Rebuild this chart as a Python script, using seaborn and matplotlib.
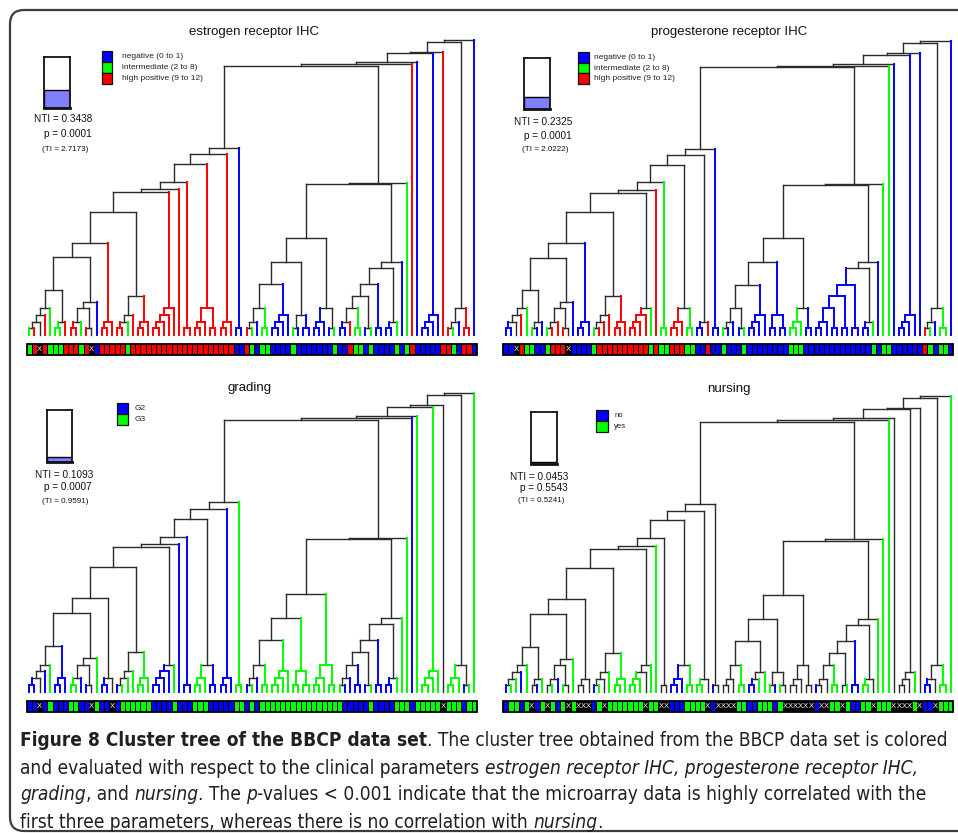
import numpy as np
import matplotlib
matplotlib.use("Agg")
import matplotlib.pyplot as plt
import seaborn as sns
from matplotlib.colors import ListedColormap
from matplotlib.patches import Rectangle, FancyBboxPatch
from matplotlib.collections import LineCollection
from matplotlib import font_manager as fm

# ---------------- data ----------------
# cluster tree shared by all four panels: [merge height, left, right]; 0 = leaf
sub_a = [45.0, [26.7, [20.0, [13.3, [6.7, 0, 0], 0], 0], 0], [13.3, [6.7, 0, 0], 0]]
sub_b = [33.3, [26.7, [13.3, [6.7, 0, 0], 0], [6.7, 0, 0]], 0]
sub_c = [13.3, [6.7, 0, 0], 0]
sub_d = [39.0, [20.0, [13.3, [6.7, 0, 0], 0], 0], [13.3, [6.7, 0, 0], 0]]
sub_e = [26.7, [20.0, [13.3, [6.7, 0, 0], 0], 0], 0]
sub_f = [26.7, [13.3, [6.7, 0, 0], 0], [6.7, 0, 0]]
sub_g = [13.3, [6.7, 0, 0], 0]
left_clade = [187.3,
              [180.7,
               [171.0,
                [153.3,
                 [145.7,
                  [142.7, [123.3, [92.3, [77.7, sub_a, sub_b], sub_c], sub_d], sub_e],
                  0],
                 [6.7, 0, 0]],
                sub_f],
               sub_g],
              [6.7, 0, 0]]
sub_h = [26.7, [13.3, [6.7, 0, 0], 0], [6.7, 0, 0]]
sub_i = [20.0, [13.3, [6.7, 0, 0], 0], 0]
sub_j = [20.0, [6.7, 0, 0], [6.7, 0, 0]]
sub_k = [26.7, [13.3, [6.7, 0, 0], 0], [6.7, 0, 0]]
sub_l = [50.7, [39.0, [26.7, [13.3, [6.7, 0, 0], 0], [6.7, 0, 0]], [6.7, 0, 0]], [6.7, 0, 0]]
sub_m = [13.3, [6.7, 0, 0], 0]
right_clade = [152.0,
               [150.7,
                [97.0, [73.0, [50.7, sub_h, sub_i], sub_j], sub_k],
                [73.0, [67.0, sub_l, sub_m], 0]],
               0]
sub_n = [20.0, [13.3, [6.7, 0, 0], 0], 0]
sub_o = [26.7, [13.3, [6.7, 0, 0], 0], [6.7, 0, 0]]
tree = [295.0,
        [293.3,
         [283.3,
          [281.7,
           [272.7, [270.7, [269.0, left_clade, right_clade], 0], 0],
           sub_n],
          0],
         sub_o],
        0]

# leaf classes, left to right (X = missing)
er_leaf = list("GRXRGGGRRR" "GRXBRRRRRG" "RRRRRRRRRR" "RRRRRRRRRR"
               "BBRGBGGBBB" "BGBBBBBBBG" "BBRGGBGBBB" "BGBGRBBBBB" "RRGBRRB")
pr_leaf = list("BBXRGGBBGR" "RRXBBBBGRR" "RRRRRRRRGR" "GGRRRGGBBR"
               "BBGBBBGBBB" "BBBBBGGGBB" "BBBBBBBBBB" "BGBGGBBBBB" "BRGBGGB")
gr_leaf = list("BBXBGBBBGG" "BBXGBBXBGG" "GGGGBBBBGB" "BBGGGBBBBB"
               "GGBGBGGGGG" "GGGGGGGGGG" "GBBBBBGBBB" "BGGGBGGGGG" "XGGGBGG")
nu_leaf = list("BGGBGXBGXG" "BGXGXXXBGX" "GGGGGGGXGG" "XXBBBGGGGX"
               "BXXXXGGBBG" "GGBGXXXXXX" "BXXGGXGBBG" "GXGGGXXXXG" "XBBXGGG")

er_names = ["negative (0 to 1)", "intermediate (2 to 8)", "high positive (9 to 12)"]
pr_names = ["negative (0 to 1)", "intermediate (2 to 8)", "high positive (9 to 12)"]
gr_names = ["G2", "G3"]
nu_names = ["no", "yes"]

titles = ["estrogen receptor IHC", "progesterone receptor IHC", "grading", "nursing"]
nti_values = [0.3438, 0.2325, 0.1093, 0.0453]
p_values = ["0.0001", "0.0001", "0.0007", "0.5543"]
ti_values = ["2.7173", "2.0222", "0.9591", "0.5241"]

COL = {"B": "#0000ff", "G": "#00ff00", "R": "#ff0000", "X": "#000000"}
DARK = "#2b2b2b"

# ---------------- figure ----------------
sns.set_theme(style="white")
plt.rcParams['font.family'] = ['Liberation Sans', 'DejaVu Sans']

W, H = 958, 834
fig = plt.figure(figsize=(W / 100, H / 100), dpi=100)
canvas = fig.add_axes([0, 0, 1, 1])
canvas.set_xlim(0, W)
canvas.set_ylim(H, 0)
canvas.axis('off')


def px_axes(x0, y0, x1, y1):
    return fig.add_axes([x0 / W, 1 - y1 / H, (x1 - x0) / W, (y1 - y0) / H])


canvas.add_patch(FancyBboxPatch((10, 10), 1000, 821,
                                boxstyle="round,pad=0,rounding_size=14",
                                fill=False, ec="#3c3c3c", lw=1.6, clip_on=False))


def build(node, counter, cats, segs):
    if node == 0:
        i = counter[0]
        counter[0] += 1
        return i + 0.5, 0.0, {cats[i]}
    h, left, right = node
    xl, hl, sl = build(left, counter, cats, segs)
    xr, hr, sr = build(right, counter, cats, segs)
    s = sl | sr

    def colour(st):
        if len(st) == 1 and "X" not in st:
            return COL[next(iter(st))]
        return DARK

    segs.append(([(xl, hl), (xl, h)], colour(sl)))
    segs.append(([(xr, hr), (xr, h)], colour(sr)))
    segs.append(([(xl, h), (xr, h)], colour(s)))
    return (xl + xr) / 2, h, s


layout = [
    dict(x0=26.7, x1=476.7, top=40.0, base=335.0, bar=(344.3, 355.3),
         title=(254, 31.7), box=(44.3, 56.7, 70.0, 108.0),
         txt=[(63, 119.3), (67.5, 134.0), (65, 149.3)],
         leg=(101.7, 50.7, 10.6, 11.0, 122.0), legfs=6.0),
    dict(x0=503.3, x1=953.3, top=41.5, base=335.0, bar=(344.3, 355.3),
         title=(729, 32.0), box=(524.3, 58.0, 550.3, 109.0),
         txt=[(543, 121.7), (548, 136.0), (545, 149.3)],
         leg=(578.3, 52.3, 11.0, 10.5, 594.0), legfs=6.0),
    dict(x0=26.7, x1=476.7, top=393.3, base=691.7, bar=(701.0, 712.3),
         title=(249.3, 388.3), box=(46.7, 410.0, 72.3, 462.3),
         txt=[(64, 475.0), (68, 487.3), (65, 501.0)],
         leg=(116.7, 402.7, 11.0, 11.0, 134.3), legfs=6.0),
    dict(x0=503.3, x1=953.3, top=396.0, base=692.0, bar=(701.0, 712.3),
         title=(728.8, 389.0), box=(530.7, 412.3, 557.3, 464.3),
         txt=[(539.5, 477.3), (544, 488.3), (541, 500.0)],
         leg=(596.0, 410.0, 11.7, 10.8, 614.3), legfs=5.6),
]

leaves_all = [er_leaf, pr_leaf, gr_leaf, nu_leaf]
names_all = [er_names, pr_names, gr_names, nu_names]
keys_all = [["B", "G", "R"], ["B", "G", "R"], ["B", "G"], ["B", "G"]]

for k in range(4):
    L = layout[k]
    cats = leaves_all[k]
    keys = keys_all[k]
    n = len(cats)

    # --- dendrogram
    ax = px_axes(L["x0"], L["top"], L["x1"], L["base"])
    segs = []
    build(tree, [0], cats, segs)
    ax.set_xlim(0, n)
    ax.set_ylim(0, tree[0])
    ax.axis('off')
    dark = [s for s, c in segs if c == DARK]
    ax.add_collection(LineCollection(dark, colors=DARK, linewidths=1.0, clip_on=False,
                                     capstyle='projecting'))
    colsegs = [(s, c) for s, c in segs if c != DARK]
    ax.add_collection(LineCollection([s for s, c in colsegs], colors=[c for s, c in colsegs],
                                     linewidths=1.4, clip_on=False, capstyle='projecting'))

    # --- class colour bar (seaborn heatmap)
    bx = px_axes(L["x0"], L["bar"][0], L["x1"], L["bar"][1])
    order = keys + ["X"]
    codes = np.array([[order.index(c) for c in cats]])
    annot = np.array([["X" if c == "X" else "" for c in cats]])
    sns.heatmap(codes, ax=bx, cmap=ListedColormap([COL[c] for c in order]),
                vmin=-0.5, vmax=len(order) - 0.5, cbar=False,
                linewidths=0.7, linecolor="black",
                annot=annot, fmt="", annot_kws={"color": "white", "fontsize": 5.5},
                xticklabels=False, yticklabels=False)
    bx.add_patch(Rectangle((0, 0), n, 1, fill=False, ec="black", lw=1.3, clip_on=False))

    # --- title
    canvas.text(L["title"][0], L["title"][1], titles[k], ha="center", va="center",
                fontsize=9.5, color="#111111")

    # --- NTI box
    b = L["box"]
    nx = px_axes(b[0], b[1], b[2], b[3])
    nx.bar([0], [nti_values[k]], width=1.0, color="#8080ff", edgecolor="#000000", linewidth=1.0)
    nx.set_xlim(-0.5, 0.5)
    nx.set_ylim(0, 1)
    nx.set_xticks([])
    nx.set_yticks([])
    for sp in nx.spines.values():
        sp.set_visible(True)
        sp.set_color("#111111")
        sp.set_linewidth(1.3)
    nx.spines["bottom"].set_linewidth(2.0)
    t = L["txt"]
    canvas.text(t[0][0], t[0][1], f"NTI = {nti_values[k]:.4f}", ha="center", va="center",
                fontsize=7.2, color="#111111")
    canvas.text(t[1][0], t[1][1], f"p = {p_values[k]}", ha="center", va="center",
                fontsize=7.2, color="#111111")
    canvas.text(t[2][0], t[2][1], f"(TI = {ti_values[k]})", ha="center", va="center",
                fontsize=5.8, color="#111111")

    # --- legend
    lx, ly, lw_, lh, tx = L["leg"]
    for j, key in enumerate(keys):
        canvas.add_patch(Rectangle((lx, ly + j * lh), lw_, lh, fc=COL[key], ec="#111111", lw=0.9))
        canvas.text(tx, ly + j * lh + lh / 2, names_all[k][j], ha="left", va="center",
                    fontsize=L["legfs"], color="#222222")

# ---------------- caption ----------------
def pick_condensed():
    cands = [dict(family="Liberation Sans Narrow"),
             dict(family="DejaVu Sans", stretch="condensed"),
             dict(family="Open Sans", stretch="condensed")]
    for c in cands:
        try:
            f = fm.findfont(fm.FontProperties(**c), fallback_to_default=False)
            if "narrow" in f.lower() or "condensed" in f.lower():
                return c
        except Exception:
            pass
    return dict(family="Open Sans")


cfont = pick_condensed()
caption = [
    [("Figure 8 Cluster tree of the BBCP data set", "bold", "normal"),
     (". The cluster tree obtained from the BBCP data set is colored", "normal", "normal")],
    [("and evaluated with respect to the clinical parameters ", "normal", "normal"),
     ("estrogen receptor IHC, progesterone receptor IHC,", "normal", "italic")],
    [("grading", "normal", "italic"), (", and ", "normal", "normal"),
     ("nursing", "normal", "italic"), (". The ", "normal", "normal"),
     ("p", "normal", "italic"),
     ("-values < 0.001 indicate that the microarray data is highly correlated with the", "normal", "normal")],
    [("first three parameters, whereas there is no correlation with ", "normal", "normal"),
     ("nursing", "normal", "italic"), (".", "normal", "normal")],
]
cap_y = [740, 768, 795, 822]
renderer = fig.canvas.get_renderer()


def width_of(s, size, weight, style):
    kw = dict(fontsize=size, fontweight=weight, fontstyle=style, **cfont)
    t1 = canvas.text(0, 0, "|" + s + "|", **kw)
    t2 = canvas.text(0, 0, "||", **kw)
    w = t1.get_window_extent(renderer).width - t2.get_window_extent(renderer).width
    t1.remove()
    t2.remove()
    return w


base = 12.0
w0 = sum(width_of(s, base, wt, st) for s, wt, st in caption[0])
size = base * 927.0 / w0
for line, y in zip(caption, cap_y):
    x = 20.0
    for s, wt, st in line:
        canvas.text(x, y, s, ha="left", va="center", fontsize=size, fontweight=wt,
                    fontstyle=st, color="#231f20", **cfont)
        x += width_of(s, size, wt, st)

fig.savefig("out.png", dpi=100)
